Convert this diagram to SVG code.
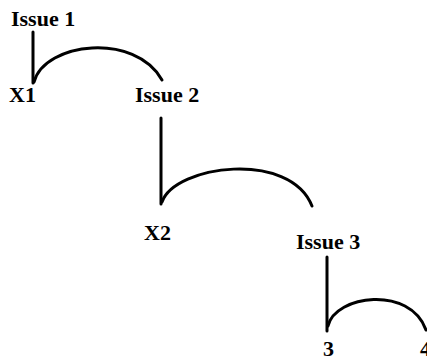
<svg xmlns="http://www.w3.org/2000/svg" width="427" height="363" viewBox="0 0 427 363">
<style>
text{font-family:"Liberation Serif","Times New Roman",serif;font-weight:bold;font-size:22px;fill:#000}
.c{fill:none;stroke:#000;stroke-width:3;stroke-linecap:round}
</style>
<rect width="427" height="363" fill="#fff"/>
<g id="connectors">
<path class="c" d="M33,32 V83"/>
<path class="c" d="M34,82 C45,42 135,32 162,80"/>
<path class="c" d="M161,118 V204"/>
<path class="c" d="M162,202 C175,165 290,150 312,206"/>
<path class="c" d="M327,257 V331"/>
<path class="c" d="M328,326 C335,295 410,285 426,330"/>
</g>
<g id="issue1"><text x="11" y="26">Issue 1</text></g>
<g id="x1"><text x="9" y="102">X1</text></g>
<g id="issue2"><text x="135" y="102">Issue 2</text></g>
<g id="x2"><text x="144" y="240">X2</text></g>
<g id="issue3"><text x="296" y="249">Issue 3</text></g>
<g id="n3"><text x="323" y="356">3</text></g>
<g id="n4"><text x="420" y="356">4</text></g>
</svg>
